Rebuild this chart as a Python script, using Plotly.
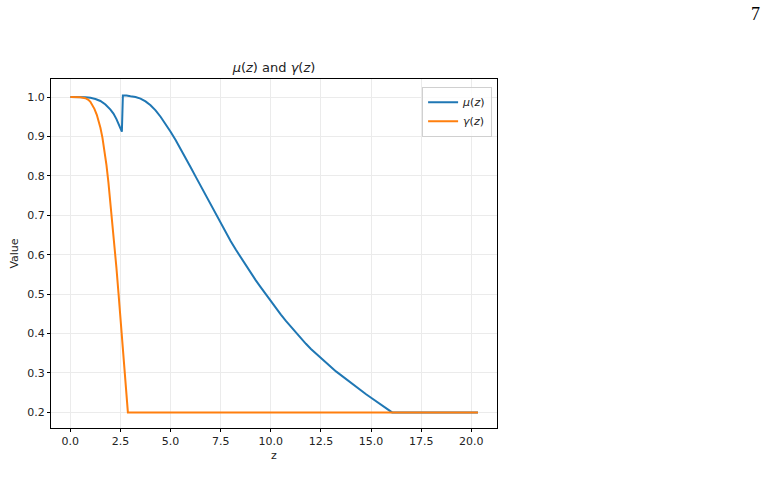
import plotly.graph_objects as go

# ---- data ----
mu_z = [0.0, 0.5, 0.75, 1.0, 1.25, 1.5, 1.75, 2.0, 2.15, 2.3, 2.4, 2.5, 2.57,
        2.62, 2.8, 3.0, 3.25, 3.5, 3.75, 4.0, 4.25, 4.5, 4.75, 5.0, 5.25, 5.5,
        5.75, 6.0, 6.25, 6.5, 6.75, 7.0, 7.25, 7.5, 7.75, 8.0, 8.25, 8.5, 8.75,
        9.0, 9.25, 9.5, 9.75, 10.0, 10.25, 10.5, 10.75, 11.0, 11.25, 11.5,
        11.75, 12.0, 12.25, 12.5, 12.75, 13.0, 13.25, 13.5, 13.75, 14.0, 14.25,
        14.5, 14.75, 15.0, 15.25, 15.5, 15.75, 16.05, 20.33]
mu_v = [1.0, 1.0, 0.9995, 0.998, 0.995, 0.990, 0.981, 0.968, 0.958, 0.944,
        0.933, 0.921, 0.912, 1.004, 1.004, 1.002, 1.000, 0.996, 0.989, 0.979,
        0.966, 0.950, 0.932, 0.912, 0.891, 0.869, 0.846, 0.822, 0.798, 0.774,
        0.750, 0.726, 0.702, 0.679, 0.656, 0.634, 0.613, 0.593, 0.573, 0.554,
        0.535, 0.517, 0.499, 0.482, 0.465, 0.448, 0.432, 0.417, 0.402, 0.388,
        0.374, 0.361, 0.349, 0.337, 0.326, 0.315, 0.304, 0.294, 0.284, 0.274,
        0.264, 0.255, 0.246, 0.237, 0.228, 0.219, 0.210, 0.2, 0.2]

gamma_z = [0.0, 0.25, 0.5, 0.75, 0.9, 1.0, 1.1, 1.2, 1.32, 1.4, 1.5, 1.6, 1.7,
           1.8, 1.9, 2.0, 2.1, 2.2, 2.3, 2.4, 2.5, 2.6, 2.7, 2.8, 2.87, 20.33]
gamma_v = [1.0, 1.0, 0.9995, 0.997, 0.993, 0.988, 0.980, 0.970, 0.955, 0.942,
           0.922, 0.897, 0.866, 0.828, 0.783, 0.733, 0.680, 0.626, 0.566, 0.503,
           0.437, 0.365, 0.295, 0.232, 0.2, 0.2]

x_ticks = [0, 2.5, 5, 7.5, 10, 12.5, 15, 17.5, 20]
x_tick_text = ["0.0", "2.5", "5.0", "7.5", "10.0", "12.5", "15.0", "17.5", "20.0"]
y_ticks = [0.2, 0.3, 0.4, 0.5, 0.6, 0.7, 0.8, 0.9, 1.0]
y_tick_text = ["0.2", "0.3", "0.4", "0.5", "0.6", "0.7", "0.8", "0.9", "1.0"]

FONT = "DejaVu Sans"

fig = go.Figure()
fig.add_trace(go.Scatter(x=mu_z, y=mu_v, mode="lines", name="<i>μ</i>(<i>z</i>)",
                         line=dict(color="#1f77b4", width=2)))
fig.add_trace(go.Scatter(x=gamma_z, y=gamma_v, mode="lines", name="<i>γ</i>(<i>z</i>)",
                         line=dict(color="#ff7f0e", width=2)))

axis_common = dict(showline=True, linecolor="black", linewidth=1, mirror=True,
                   ticks="outside", ticklen=3, tickwidth=1, tickcolor="black",
                   showgrid=True, gridcolor="#ebebeb", gridwidth=1,
                   zeroline=False, tickfont=dict(family=FONT, size=11, color="#222"))

fig.update_layout(
    width=766, height=501,
    margin=dict(l=51, r=269, t=79, b=73),
    paper_bgcolor="white", plot_bgcolor="white",
    font=dict(family=FONT, color="#222"),
    title=dict(text="<i>μ</i>(<i>z</i>) and <i>γ</i>(<i>z</i>)", x=274 / 766, xanchor="center",
               y=1 - 67 / 501, yanchor="middle", font=dict(family=FONT, size=13)),
    xaxis=dict(range=[-0.965, 21.28], tickvals=x_ticks, ticktext=x_tick_text,
               title=dict(text="z", font=dict(family=FONT, size=11), standoff=4),
               **axis_common),
    yaxis=dict(range=[0.1604, 1.0457], tickvals=y_ticks, ticktext=y_tick_text,
               title=dict(text="Value", font=dict(family=FONT, size=11), standoff=6),
               **axis_common),
    legend=dict(x=0.989, xanchor="right", y=0.978, yanchor="top",
                bgcolor="rgba(255,255,255,0.8)", bordercolor="#d0d0d0", borderwidth=1,
                font=dict(family=FONT, size=11), tracegroupgap=0),
    showlegend=True,
)

fig.add_annotation(text="7", xref="paper", yref="paper", x=(755 - 51) / 446,
                   y=1 + (79 - 14) / 349, xanchor="center", yanchor="middle",
                   showarrow=False, font=dict(family="Liberation Serif", size=18, color="black"))

fig.write_html("out.html")
